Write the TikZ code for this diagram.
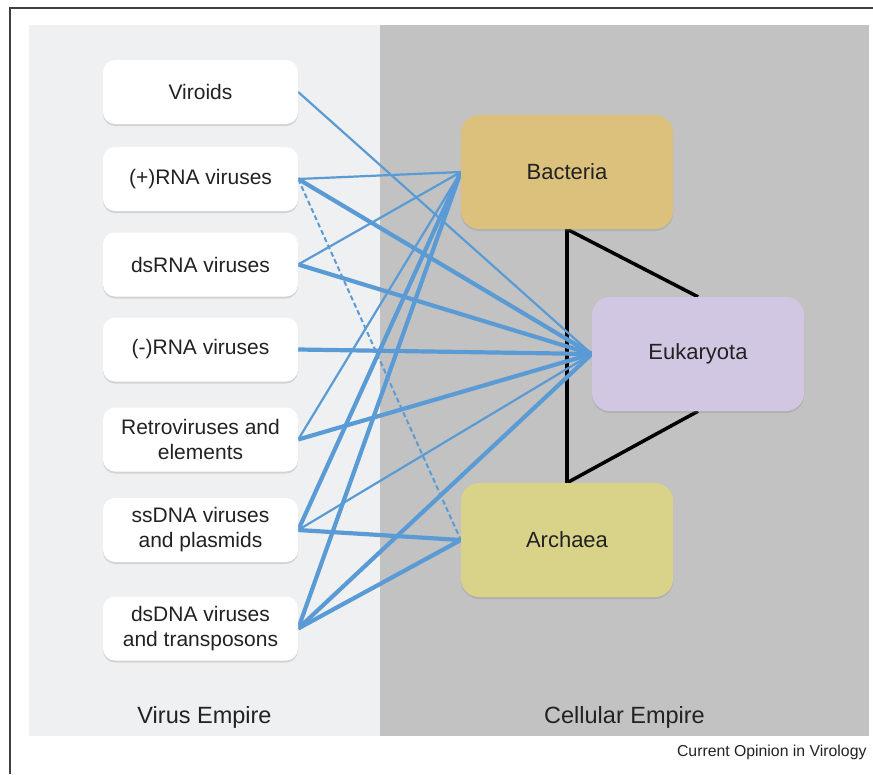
\documentclass[tikz,border=0pt]{standalone}
\usepackage{fontspec}
\setmainfont{Liberation Sans}
\usepackage{xcolor}
\usetikzlibrary{shadows}

\definecolor{viruspanel}{RGB}{239,240,241}
\definecolor{cellpanel}{RGB}{193,194,193}
\definecolor{bactcol}{RGB}{220,193,124}
\definecolor{eukcol}{RGB}{210,199,227}
\definecolor{archcol}{RGB}{216,211,136}
\definecolor{linkcol}{RGB}{91,155,213}
\definecolor{txtcol}{RGB}{34,34,34}

\pgfdeclarelayer{panels}
\pgfdeclarelayer{links}
\pgfsetlayers{panels,links,main}

\tikzset{
  virus/.style={fill=white, rounded corners=12pt, minimum width=195pt,
    minimum height=64pt, align=center, text=txtcol,
    font=\fontsize{21}{25}\selectfont,
    drop shadow={shadow xshift=0pt, shadow yshift=-2pt, opacity=0.25}},
  cell/.style={rounded corners=18pt, minimum width=212pt,
    minimum height=114pt, align=center, text=txtcol,
    font=\fontsize{22}{26}\selectfont,
    drop shadow={shadow xshift=0pt, shadow yshift=-2pt, opacity=0.25}},
  thinlink/.style={linkcol, line width=2.2pt},
  thicklink/.style={linkcol, line width=4.2pt},
  dashlink/.style={linkcol, line width=2pt, dash pattern=on 5pt off 3pt},
  empire/.style={anchor=base, text=txtcol, font=\fontsize{23.5}{28}\selectfont}
}

\begin{document}
\begin{tikzpicture}[x=1pt,y=-1pt]
    \useasboundingbox (0,0) rectangle (873,774);

    % Viruses
    \node[virus] (viroids) at (200.5,92) {Viroids};
    \node[virus] (plusrna) at (200.5,179) {(+)RNA viruses};
    \node[virus] (dsrna) at (200.5,264.5) {dsRNA viruses};
    \node[virus] (minusrna) at (200.5,349.5) {(-)RNA viruses};
    \node[virus] (retro) at (200.5,439.5) {Retroviruses and\\elements};
    \node[virus] (ssdna) at (200.5,530) {ssDNA viruses\\and plasmids};
    \node[virus] (dsdna) at (200.5,628.5) {dsDNA viruses\\and transposons};

    % Cells
    \node[cell, fill=bactcol] (bacteria) at (567,172) {Bacteria};
    \node[cell, fill=eukcol] (eukaryota) at (698,354) {Eukaryota};
    \node[cell, fill=archcol] (archaea) at (567,540) {Archaea};

    % Labels
    \node[empire] (viruslabel) at (204.5,723) {Virus Empire};
    \node[empire] (celllabel) at (624.5,723) {Cellular Empire};
    \node[anchor=base east, text=txtcol, font=\fontsize{15.8}{18}\selectfont]
        (credit) at (870,756) {Current Opinion in Virology};

    % Panels and frame
    \begin{pgfonlayer}{panels}
        \fill[viruspanel] (29,25) rectangle (380,736);
        \fill[cellpanel] (380,25) rectangle (869,736);
        \draw[black!75, line width=1.2pt] (10,774) -- (10,8) -- (873,8);
    \end{pgfonlayer}

    \begin{pgfonlayer}{links}
        % Tree
        \draw[line width=3.5pt, line join=round]
            (bacteria.south) -- (archaea.north);
        \draw[line width=3.5pt] (bacteria.south) -- (eukaryota.north);
        \draw[line width=3.5pt] (archaea.north) -- (eukaryota.south);

        % Links to Bacteria
        \draw[thinlink] (plusrna.east) -- (bacteria.west);
        \draw[thinlink] (dsrna.east) -- (bacteria.west);
        \draw[thinlink] (retro.east) -- (bacteria.west);
        \draw[thicklink] (ssdna.east) -- (bacteria.west);
        \draw[thicklink] (dsdna.east) -- (bacteria.west);

        % Links to Eukaryota
        \draw[thinlink] (viroids.east) -- (eukaryota.west);
        \draw[thicklink] (plusrna.east) -- (eukaryota.west);
        \draw[thicklink] (dsrna.east) -- (eukaryota.west);
        \draw[thicklink] (minusrna.east) -- (eukaryota.west);
        \draw[thicklink] (retro.east) -- (eukaryota.west);
        \draw[thinlink] (ssdna.east) -- (eukaryota.west);
        \draw[thicklink] (dsdna.east) -- (eukaryota.west);

        % Links to Archaea
        \draw[dashlink] (plusrna.east) -- (archaea.west);
        \draw[thicklink] (ssdna.east) -- (archaea.west);
        \draw[thicklink] (dsdna.east) -- (archaea.west);
    \end{pgfonlayer}
\end{tikzpicture}
\end{document}
